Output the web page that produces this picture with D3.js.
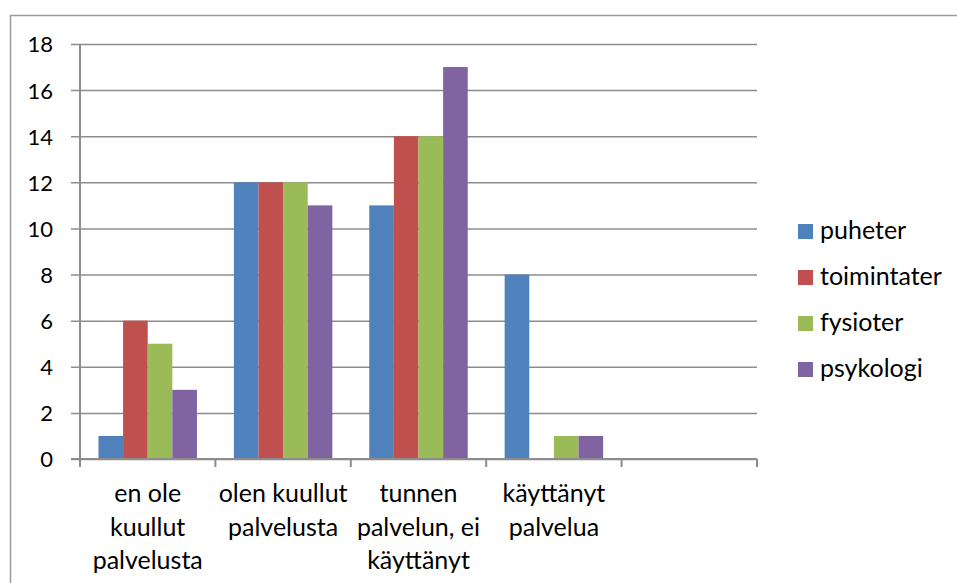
<!DOCTYPE html>
<html><head><meta charset="utf-8">
<script src="https://cdn.jsdelivr.net/npm/d3@7"></script>
<style>body{margin:0;background:#fff}svg{display:block}text{font-family:Lato,"Open Sans",sans-serif;fill:#000}</style>
</head><body>
<svg id="c" width="957" height="583"></svg>
<script>
const categories = [["en ole","kuullut","palvelusta"],["olen kuullut","palvelusta"],["tunnen","palvelun, ei","käyttänyt"],["käyttänyt","palvelua"],[]];
const seriesNames = ["puheter","toimintater","fysioter","psykologi"];
const colors = ["#4F81BD","#C0504D","#9BBB59","#8064A2"];
const puheter = [1,12,11,8,null];
const toimintater = [6,12,14,0,null];
const fysioter = [5,12,14,1,null];
const psykologi = [3,11,17,1,null];
const yTicks = [0,2,4,6,8,10,12,14,16,18];
const series = [puheter,toimintater,fysioter,psykologi];

(function(){
const svg = d3.select("#c");
const mL=80,mR=757,mT=44,mB=459;
svg.append("path").attr("d","M10.5,583 L10.5,15.5 L957,15.5").attr("fill","none").attr("stroke","#9a9a9a").attr("stroke-width",1.5);

const x = d3.scaleBand().domain(d3.range(categories.length)).range([mL,mR]).paddingInner(0).paddingOuter(0);
const inner = d3.scaleBand().domain(d3.range(series.length)).range([0,x.bandwidth()]).paddingOuter(0.75).paddingInner(0);
const y = d3.scaleLinear().domain([0,18]).range([mB,mT]);

// y axis with gridlines
const ya = svg.append("g").attr("transform",`translate(${mL},0)`)
  .call(d3.axisLeft(y).tickValues(yTicks).tickSize(-(mR-mL)).tickPadding(27).tickFormat(d3.format("d")));
ya.select(".domain").remove();
ya.selectAll(".tick line").attr("x1",-9).attr("stroke","#8c8c8c").attr("stroke-width",1.5);
ya.selectAll(".tick text").attr("font-size",22).attr("font-family","Lato, 'Open Sans', sans-serif").attr("fill","#000").attr("dy","0.36em");

// bars
series.forEach((s,si)=>{
  svg.append("g").selectAll("rect").data(s.map((v,i)=>({v,i})).filter(d=>d.v!=null && d.v>0)).join("rect")
   .attr("x",d=>x(d.i)+inner(si)).attr("width",inner.bandwidth())
   .attr("y",d=>y(d.v)).attr("height",d=>y(0)-y(d.v))
   .attr("fill",colors[si]);
});

// axis lines
svg.append("line").attr("x1",mL).attr("x2",mL).attr("y1",mT).attr("y2",mB+7).attr("stroke","#8c8c8c").attr("stroke-width",2);
svg.append("line").attr("x1",mL-9).attr("x2",mR).attr("y1",mB).attr("y2",mB).attr("stroke","#8c8c8c").attr("stroke-width",2);
const tickXs = d3.range(categories.length+1).map(i=> i<categories.length ? x(i) : mR);
svg.append("g").selectAll("line").data(tickXs).join("line").attr("x1",d=>d).attr("x2",d=>d).attr("y1",mB).attr("y2",mB+8).attr("stroke","#8c8c8c").attr("stroke-width",2);

// category labels
categories.forEach((lines,i)=>{
  const t = svg.append("text").attr("text-anchor","middle").attr("font-size",25);
  lines.forEach((ln,li)=>{
    t.append("tspan").attr("x",x(i)+x.bandwidth()/2).attr("y",502+li*33.5).text(ln);
  });
});

// legend
const lg = svg.append("g");
seriesNames.forEach((n,i)=>{
  const by = 239+i*46;
  lg.append("rect").attr("x",798).attr("y",by-15).attr("width",15).attr("height",15).attr("fill",colors[i]);
  lg.append("text").attr("x",820).attr("y",by).attr("font-size",25).text(n);
});
})();
</script>
</body></html>
